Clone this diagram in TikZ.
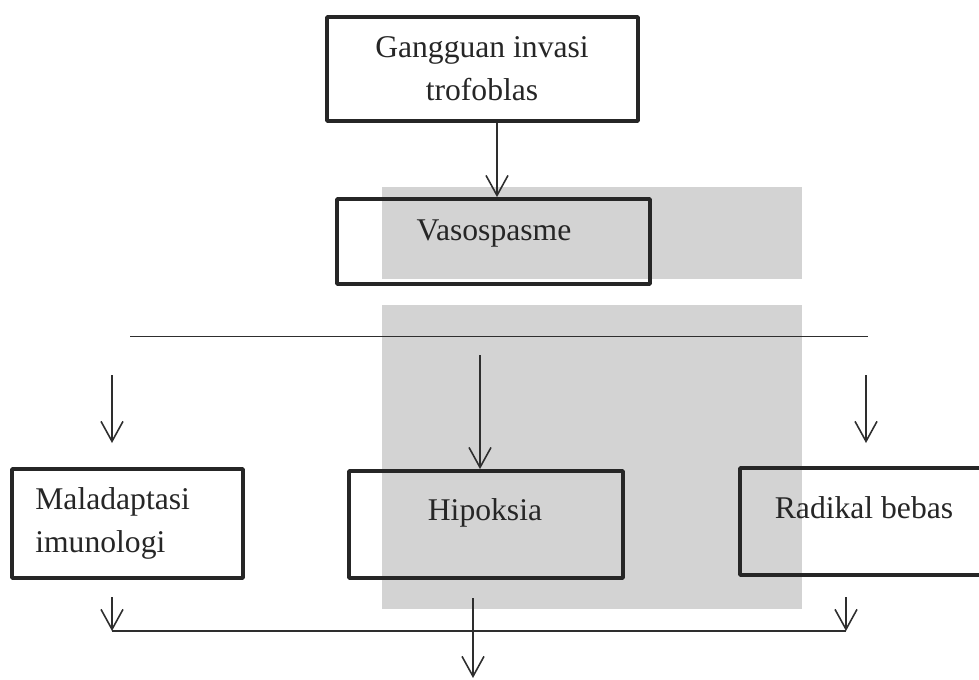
\documentclass[tikz,border=0pt]{standalone}
\usepackage{fontspec}
\setmainfont{Liberation Serif}
\usetikzlibrary{arrows.meta, positioning}

\definecolor{boxline}{HTML}{262626}
\definecolor{flowgray}{HTML}{2E2E2E}
\definecolor{markgray}{HTML}{D3D3D3}

\begin{document}
\begin{tikzpicture}[x=0.02cm, y=-0.02cm]
    % settings for this picture
    \tikzset{
      box/.style={draw=boxline, line width=2.2pt, rounded corners=0.5pt, inner sep=0pt},
      txt/.style={font=\fontsize{18}{24}\selectfont, text=black!85, inner sep=0pt},
      flow/.style={draw=flowgray, line width=0.9pt},
      arr/.style={flow, -{Straight Barb[length=0.4cm, width=0.44cm, line width=0.9pt]}},
    }
    \useasboundingbox (0,0) rectangle (979,679);

    % grey blocks behind
    \fill[markgray] (382,187) rectangle (802,279);
    \fill[markgray] (382,305) rectangle (802,609);

    % boxes
    \node[box, minimum width=6.22cm, minimum height=2.08cm] (gangguan) at (482.5,69) {};
    \node[box, minimum width=6.26cm, minimum height=1.70cm] (vaso) at (493.5,241.5) {};
    \node[box, minimum width=4.62cm, minimum height=2.18cm] (malad) at (127.5,523.5) {};
    \node[box, minimum width=5.48cm, minimum height=2.14cm] (hipoksia) at (486,524.5) {};
    \node[box, minimum width=5.20cm, minimum height=2.14cm] (radikal) at (870,521.5) {};

    % texts (base = last line)
    \node[txt, align=center, anchor=base] (gangguan-t) at (482,100) {Gangguan invasi\\trofoblas};
    \node[txt, anchor=base] (vaso-t) at (494,240) {Vasospasme};
    \node[txt, align=left, anchor=base west] (malad-t) at (35,552) {Maladaptasi\\imunologi};
    \node[txt, anchor=base] (hipoksia-t) at (485,520) {Hipoksia};
    \node[txt, anchor=base] (radikal-t) at (864,518) {Radikal bebas};

    % free ends
    \coordinate (splitL) at (130,336.5);
    \coordinate (splitR) at (868,336.5);
    \coordinate (inL) at (112,375);
    \coordinate (inM) at (480,355);
    \coordinate (inR) at (866,375);
    \coordinate (joinL) at (112,631);
    \coordinate (joinR) at (846,631);
    \coordinate (outM) at (473,598);

    % connections
    \draw[arr] ([xshift=0.29cm]gangguan.south) -- ([xshift=0.29cm]gangguan.south |- vaso.north);
    \draw[flow] (splitL) -- (splitR);
    \draw[arr] (inL) -- ++(0,68);
    \draw[arr] (inM) -- (inM |- hipoksia.north);
    \draw[arr] (inR) -- ++(0,68);
    \draw[arr] (joinL |- 0,597) -- (joinL);
    \draw[arr] (joinR |- 0,597) -- (joinR);
    \draw[flow] (joinL) -- (joinR);
    \draw[arr] (outM) -- ++(0,80);

\end{tikzpicture}
\end{document}
